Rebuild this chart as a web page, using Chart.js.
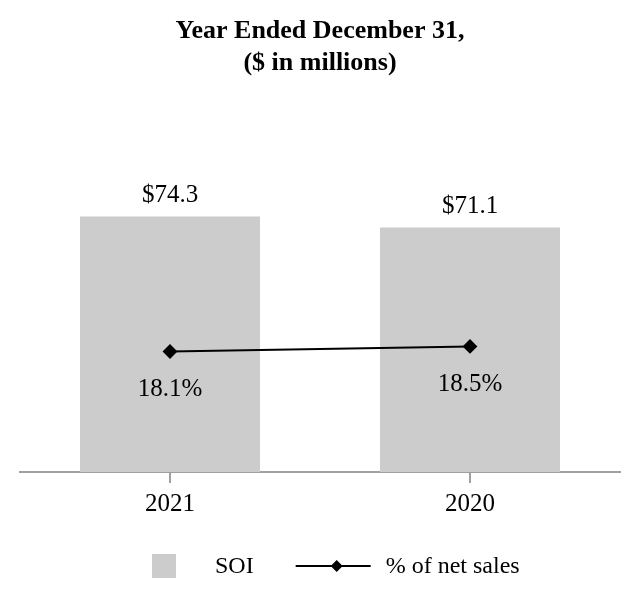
<!DOCTYPE html>
<html>
<head>
<meta charset="utf-8">
<script src="https://cdn.jsdelivr.net/npm/chart.js@4.4.1/dist/chart.umd.min.js"></script>
<style>
  html, body { margin: 0; padding: 0; background: #fff; }
  #wrap { width: 640px; height: 612px; }
</style>
</head>
<body>
<div id="wrap"><canvas id="soiChart" width="640" height="612"></canvas></div>
<script>
// ---- data ----
const years    = ['2021', '2020'];
const soi      = [74.3, 71.1];
const pctSales = [18.1, 18.5];
const titleLines = ['Year Ended December 31,', '($ in millions)'];
const legendLabels = ['SOI', '% of net sales'];

const SERIF = "'Liberation Serif', 'Times New Roman', serif";
const BAR_COLOR = '#cccccc';
const AXIS_COLOR = '#a0a0a0';

// value labels above bars / below line points
const valueLabels = {
  id: 'valueLabels',
  afterDatasetsDraw(chart) {
    const ctx = chart.ctx;
    ctx.save();
    ctx.fillStyle = '#000';
    ctx.font = '25px ' + SERIF;
    ctx.textAlign = 'center';
    ctx.textBaseline = 'alphabetic';
    chart.getDatasetMeta(1).data.forEach((bar, i) => {
      ctx.fillText('$' + soi[i].toFixed(1), bar.x, bar.y - 14);
    });
    chart.getDatasetMeta(0).data.forEach((pt, i) => {
      ctx.fillText(pctSales[i].toFixed(1) + '%', pt.x, pt.y + 45);
    });
    ctx.restore();
  }
};

// legend: grey box + "SOI", line with diamond + "% of net sales"
const bottomLegend = {
  id: 'bottomLegend',
  afterDraw(chart) {
    const ctx = chart.ctx;
    const y = chart.height - 46;
    let x = chart.width / 2 - 168;
    ctx.save();
    ctx.font = '24px ' + SERIF;
    ctx.textBaseline = 'middle';
    ctx.fillStyle = BAR_COLOR;
    ctx.fillRect(x, y - 12, 24, 24);
    x += 24 + 39;
    ctx.fillStyle = '#000';
    ctx.fillText(legendLabels[0], x, y + 1);
    x += ctx.measureText(legendLabels[0]).width + 42;
    ctx.strokeStyle = '#000';
    ctx.lineWidth = 2;
    ctx.beginPath();
    ctx.moveTo(x, y);
    ctx.lineTo(x + 75, y);
    ctx.stroke();
    const dx = x + 41;
    ctx.beginPath();
    ctx.moveTo(dx, y - 6);
    ctx.lineTo(dx + 6, y);
    ctx.lineTo(dx, y + 6);
    ctx.lineTo(dx - 6, y);
    ctx.closePath();
    ctx.fill();
    x += 75 + 15;
    ctx.fillText(legendLabels[1], x, y + 1);
    ctx.restore();
  }
};

new Chart(document.getElementById('soiChart'), {
  data: {
    labels: years,
    datasets: [
      {
        type: 'line',
        label: legendLabels[1],
        data: pctSales,
        yAxisID: 'yPct',
        borderColor: '#000',
        backgroundColor: '#000',
        borderWidth: 2,
        pointStyle: 'rectRot',
        pointRadius: 6,
        pointHoverRadius: 6,
        order: 1
      },
      {
        type: 'bar',
        label: legendLabels[0],
        data: soi,
        yAxisID: 'y',
        backgroundColor: BAR_COLOR,
        barPercentage: 0.6,
        categoryPercentage: 1,
        order: 2
      }
    ]
  },
  options: {
    responsive: false,
    animation: false,
    layout: { padding: { left: 20, right: 20, top: 0, bottom: 87 } },
    plugins: {
      legend: { display: false },
      tooltip: { enabled: false },
      title: {
        display: true,
        text: titleLines,
        color: '#000',
        font: { family: SERIF, size: 26, weight: 'bold', lineHeight: 1.25 },
        padding: { top: 15, bottom: 48 }
      }
    },
    scales: {
      x: {
        grid: {
          display: true,
          offset: false,
          drawOnChartArea: false,
          drawTicks: true,
          tickLength: 11,
          color: AXIS_COLOR,
          lineWidth: 2
        },
        border: { display: true, color: AXIS_COLOR, width: 2 },
        ticks: { color: '#000', font: { family: SERIF, size: 25 }, padding: 6 }
      },
      y: { display: false, min: 0, max: 100 },
      yPct: { display: false, min: 8.5, max: 35.9 }
    }
  },
  plugins: [valueLabels, bottomLegend]
});
</script>
</body>
</html>
